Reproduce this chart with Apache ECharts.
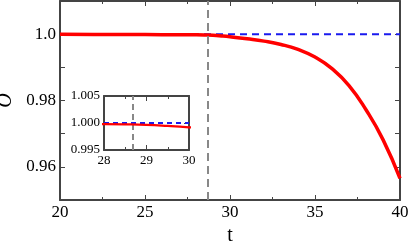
<!DOCTYPE html>
<html>
<head>
<meta charset="utf-8">
<script src="https://cdn.jsdelivr.net/npm/echarts@6/dist/echarts.min.js"></script>
<style>
  html, body { margin: 0; padding: 0; background: #fff; }
  #chart { width: 409px; height: 241px; }
</style>
</head>
<body>
<div id="chart"></div>
<script>
// t values and order parameter O
let tVals = [20, 22, 24, 26, 27, 28, 28.5, 29, 29.5, 30, 31, 32, 33, 34, 35, 36, 37, 38, 39, 40];
let oVals = [0.99995, 0.9999, 0.9999, 0.99985, 0.99983, 0.9998, 0.99975, 0.99965, 0.99945, 0.9992,
             0.9986, 0.9979, 0.9969, 0.9954, 0.9931, 0.9896, 0.9845, 0.9772, 0.9682, 0.9565];
let refLevel = 1.0;
let tCross = 28.68;
let mainYLabels = [1.0, 0.98, 0.96];

let chart = echarts.init(document.getElementById('chart'));
let font = 'Liberation Serif';
let axisColor = '#444';

let pts = tVals.map((t, i) => [t, oVals[i]]);

/* 坐标轴 */
function xAx(grid, pos, min, max, itv, showLabel, fs) {
    return {
        type: 'value', gridIndex: grid, position: pos, min: min, max: max, interval: itv,
        axisLine: { show: true, onZero: false, lineStyle: { color: axisColor, width: 2 } },
        axisTick: { show: true, inside: true, length: 5, lineStyle: { color: axisColor } },
        minorTick: { show: true, splitNumber: 2, length: 3, lineStyle: { color: axisColor } },
        axisLabel: { show: showLabel, color: '#000', fontFamily: font, fontSize: fs, margin: 4 },
        splitLine: { show: false }
    };
}
function yAx(grid, pos, min, max, itv, showLabel, fs, fmt) {
    return {
        type: 'value', gridIndex: grid, position: pos, min: min, max: max, interval: itv,
        axisLine: { show: true, onZero: false, lineStyle: { color: axisColor, width: 2 } },
        axisTick: { show: true, inside: true, length: 5, lineStyle: { color: axisColor } },
        axisLabel: { show: showLabel, color: '#000', fontFamily: font, fontSize: fs, margin: 4, formatter: fmt },
        splitLine: { show: false }
    };
}

let mainFmt = function (v) {
    let r = Math.round(v * 100) / 100;
    if (mainYLabels.indexOf(r) < 0) return '';
    return r === 1 ? '1.0' : r.toFixed(2);
};
let insetFmt = function (v) { return v.toFixed(3); };

let xMain = xAx(0, 'bottom', 20, 40, 5, true, 17);
xMain.name = 't';
xMain.nameLocation = 'middle';
xMain.nameGap = 21;
xMain.nameTextStyle = { fontFamily: font, fontSize: 20, color: '#000' };

let yMain = yAx(0, 'left', 0.95, 1.01, 0.01, true, 17, mainFmt);
yMain.name = 'O';
yMain.nameLocation = 'middle';
yMain.nameRotate = 90;
yMain.nameGap = 0;
yMain.nameTextStyle = { fontFamily: font, fontSize: 20, fontStyle: 'italic', color: '#000' };

chart.setOption({
    animation: false,
    backgroundColor: '#fff',
    grid: [
        { left: 60, right: 9, top: 1, bottom: 41, outerBoundsMode: 'none', containLabel: false },
        { left: 104, top: 96, width: 85, height: 54, show: true, backgroundColor: '#fff', borderWidth: 0,
          outerBoundsMode: 'none', containLabel: false }
    ],
    xAxis: [
        xMain,
        xAx(0, 'top', 20, 40, 5, false, 17),
        xAx(1, 'bottom', 28, 30, 1, true, 13),
        xAx(1, 'top', 28, 30, 1, false, 13)
    ],
    yAxis: [
        yMain,
        yAx(0, 'right', 0.95, 1.01, 0.01, false, 17),
        yAx(1, 'left', 0.995, 1.005, 0.005, true, 13, insetFmt),
        yAx(1, 'right', 0.995, 1.005, 0.005, false, 13)
    ],
    series: [
        {
            type: 'line', xAxisIndex: 0, yAxisIndex: 0, data: [[20, refLevel], [40, refLevel]],
            showSymbol: false, lineStyle: { color: '#1a1aee', width: 2, type: [7, 5] }, z: 2
        },
        {
            type: 'line', xAxisIndex: 0, yAxisIndex: 0, data: pts, smooth: 0.5,
            showSymbol: false, lineStyle: { color: '#ff0000', width: 3.5 }, z: 3,
            markLine: {
                symbol: 'none', silent: true, label: { show: false },
                lineStyle: { color: '#888', width: 2, type: [8, 5] },
                data: [{ xAxis: tCross }]
            }
        },
        {
            type: 'line', xAxisIndex: 2, yAxisIndex: 2, data: [[28, refLevel], [30, refLevel]],
            showSymbol: false, lineStyle: { color: '#1a1aee', width: 2, type: [5, 4] }, z: 4
        },
        {
            type: 'line', xAxisIndex: 2, yAxisIndex: 2, data: pts, smooth: 0.5, clip: true,
            showSymbol: false, lineStyle: { color: '#ff0000', width: 2.3 }, z: 5,
            markLine: {
                symbol: 'none', silent: true, label: { show: false },
                lineStyle: { color: '#888', width: 2, type: [6, 4] },
                data: [{ xAxis: tCross }]
            }
        }
    ]
});

window.addEventListener('resize', function () { chart.resize(); });
</script>
</body>
</html>
